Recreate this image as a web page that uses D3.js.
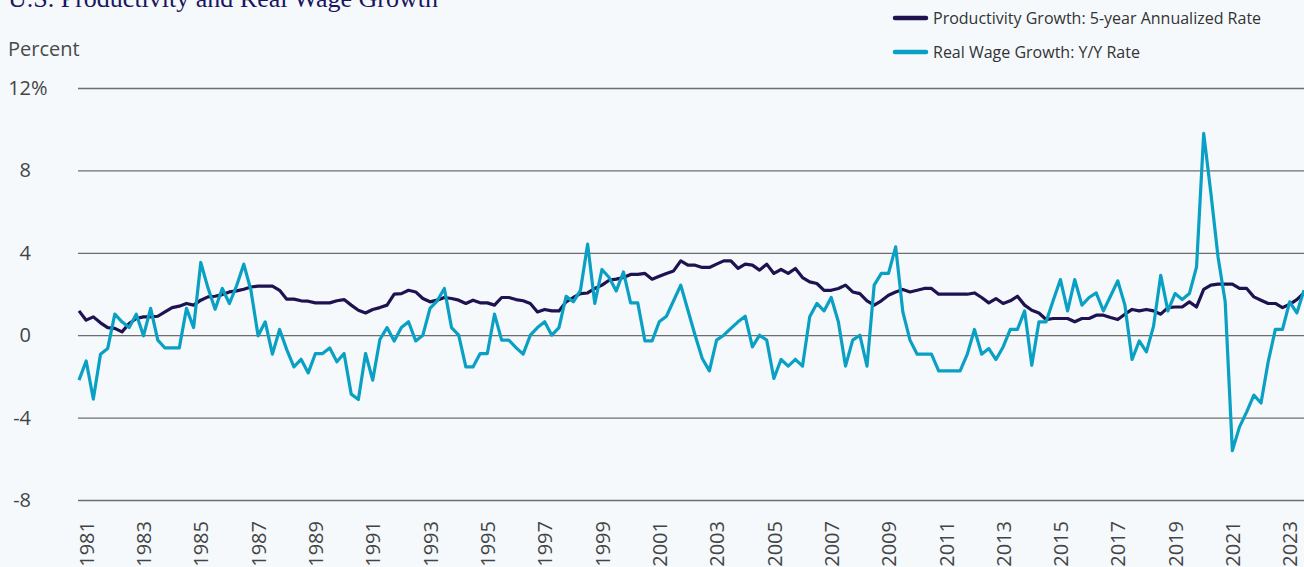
<!DOCTYPE html>
<html>
<head>
<meta charset="utf-8">
<script src="https://cdn.jsdelivr.net/npm/d3@7"></script>
<style>
  body { margin: 0; background: #f5f9fc; }
</style>
</head>
<body>
<div id="chart"></div>
<script>
  // quarterly series, first point is 1981 Q1
  const startYear = 1981;
  const productivity = [
    1.18, 0.73, 0.89, 0.6, 0.37, 0.33, 0.16, 0.57, 0.81, 0.89, 0.89, 0.92, 1.13, 1.34, 1.41, 1.54, 1.46, 1.7, 1.86, 1.89,
    1.97, 2.1, 2.15, 2.23, 2.34, 2.38, 2.38, 2.38, 2.18, 1.75, 1.75, 1.67, 1.65, 1.57, 1.57, 1.57, 1.67, 1.73, 1.46, 1.21,
    1.08, 1.25, 1.34, 1.46, 1.99, 2.02, 2.18, 2.1, 1.78, 1.62, 1.7, 1.83, 1.78, 1.7, 1.54, 1.7, 1.57, 1.57, 1.46, 1.83,
    1.83, 1.73, 1.67, 1.54, 1.13, 1.25, 1.18, 1.18, 1.62, 1.83, 2.02, 2.05, 2.27, 2.43, 2.67, 2.72, 2.8, 2.95, 2.95, 3.0,
    2.72, 2.86, 3.0, 3.12, 3.61, 3.4, 3.4, 3.29, 3.29, 3.45, 3.61, 3.61, 3.24, 3.45, 3.4, 3.16, 3.45, 3.0, 3.19, 3.0,
    3.24, 2.8, 2.59, 2.51, 2.18, 2.18, 2.27, 2.43, 2.1, 2.02, 1.67, 1.46, 1.67, 1.94, 2.1, 2.22, 2.1, 2.18, 2.27, 2.27,
    1.99, 1.99, 1.99, 1.99, 1.99, 2.05, 1.83, 1.57, 1.78, 1.54, 1.67, 1.89, 1.46, 1.21, 1.08, 0.76, 0.81, 0.81, 0.81, 0.65,
    0.81, 0.81, 0.97, 0.97, 0.86, 0.76, 1.02, 1.25, 1.18, 1.25, 1.18, 1.02, 1.34, 1.37, 1.37, 1.62, 1.37, 2.22, 2.43, 2.48,
    2.48, 2.48, 2.27, 2.27, 1.86, 1.7, 1.54, 1.54, 1.34, 1.5, 1.73, 2.05
  ];
  const realWage = [
    -2.18, -1.25, -3.1, -0.92, -0.65, 1.02, 0.65, 0.37, 1.02, -0.03, 1.3, -0.24, -0.62, -0.62, -0.62, 1.3, 0.37, 3.53, 2.3, 1.26,
    2.27, 1.54, 2.4, 3.45, 2.18, -0.03, 0.65, -0.92, 0.28, -0.7, -1.54, -1.17, -1.83, -0.89, -0.89, -0.62, -1.29, -0.89, -2.86, -3.12,
    -0.89, -2.18, -0.21, 0.37, -0.28, 0.37, 0.65, -0.28, 0, 1.3, 1.67, 2.27, 0.37, 0, -1.54, -1.54, -0.89, -0.89, 1.02, -0.24,
    -0.24, -0.6, -0.92, 0, 0.37, 0.65, 0, 0.37, 1.89, 1.62, 2.18, 4.42, 1.54, 3.19, 2.8, 2.15, 3.07, 1.57, 1.57, -0.28,
    -0.28, 0.65, 0.92, 1.67, 2.43, 1.21, 0, -1.13, -1.73, -0.24, 0, 0.33, 0.65, 0.92, -0.57, 0, -0.24, -2.1, -1.18, -1.5,
    -1.17, -1.5, 0.89, 1.54, 1.18, 1.83, 0.65, -1.5, -0.24, 0, -1.5, 2.43, 3.0, 3.0, 4.29, 1.13, -0.24, -0.92, -0.92, -0.92,
    -1.73, -1.73, -1.73, -1.73, -0.92, 0.28, -0.92, -0.65, -1.18, -0.57, 0.28, 0.28, 1.18, -1.46, 0.65, 0.65, 1.7, 2.7, 1.18, 2.7,
    1.46, 1.83, 2.05, 1.18, 1.9, 2.64, 1.46, -1.18, -0.28, -0.81, 0.44, 2.91, 1.18, 2.02, 1.73, 2.02, 3.32, 9.8, 6.9, 3.8,
    1.62, -5.6, -4.45, -3.72, -2.91, -3.29, -1.29, 0.28, 0.28, 1.62, 1.08, 2.18
  ];
  const yTicks = [12, 8, 4, 0, -4, -8];
  const labelYears = d3.range(1981, 2024, 2);
  const seriesNames = ["Productivity Growth: 5-year Annualized Rate", "Real Wage Growth: Y/Y Rate"];
  const seriesColors = ["#1e1350", "#0aa0c4"];

  const width = 1304, height = 567;
  const plot = { left: 78, right: 1304, top: 88, bottom: 500 };

  const svg = d3.select("#chart")
    .append("svg")
    .attr("width", width)
    .attr("height", height);

  svg.append("rect")
    .attr("width", width)
    .attr("height", height)
    .attr("fill", "#f5f9fc");

  // scales: x in fractional years, one step per quarter
  const x = d3.scaleLinear()
    .domain([startYear, startYear + (productivity.length - 1) / 4])
    .range([79, plot.right]);
  const y = d3.scaleLinear()
    .domain([-8, 12])
    .range([plot.bottom, plot.top]);

  // title (top part is cut off in the original)
  svg.append("text")
    .attr("x", 8)
    .attr("y", 7)
    .style("font-family", "Liberation Serif")
    .style("font-size", "26px")
    .style("fill", "#1b1660")
    .text("U.S. Productivity and Real Wage Growth");

  svg.append("text")
    .attr("x", 8)
    .attr("y", 56)
    .style("font-family", "Open Sans")
    .style("font-size", "20px")
    .style("fill", "#4a4a4a")
    .text("Percent");

  // y axis with gridlines
  const yAxis = svg.append("g")
    .attr("transform", `translate(${plot.left},0)`)
    .call(d3.axisLeft(y)
      .tickValues(yTicks)
      .tickSize(-(plot.right - plot.left))
      .tickPadding(47)
      .tickFormat(d => d));
  yAxis.select(".domain").remove();
  yAxis.selectAll(".tick line")
    .attr("stroke", "#6e6e6e")
    .attr("stroke-width", 1.3);
  yAxis.selectAll(".tick text")
    .style("font-family", "Open Sans")
    .style("font-size", "20px")
    .style("fill", "#444");
  yAxis.selectAll(".tick")
    .filter(d => d === 12)
    .append("text")
    .attr("x", -47)
    .attr("dy", "0.32em")
    .attr("text-anchor", "start")
    .style("font-family", "Open Sans")
    .style("font-size", "20px")
    .style("fill", "#444")
    .text("%");

  // x axis: rotated year labels
  const xAxis = svg.append("g")
    .attr("transform", `translate(0,${plot.bottom})`)
    .call(d3.axisBottom(x)
      .tickValues(labelYears.map(yr => yr + 0.25))
      .tickSize(0)
      .tickFormat(d => Math.floor(d)));
  xAxis.select(".domain").remove();
  xAxis.selectAll(".tick text")
    .attr("transform", "rotate(-90)")
    .attr("text-anchor", "end")
    .attr("x", -21)
    .attr("y", 0)
    .attr("dy", "0.36em")
    .style("font-family", "Open Sans")
    .style("font-size", "20px")
    .style("fill", "#444");

  // lines
  const line = d3.line()
    .x((d, i) => x(startYear + i / 4))
    .y(d => y(d));

  svg.append("path")
    .datum(productivity)
    .attr("fill", "none")
    .attr("stroke", seriesColors[0])
    .attr("stroke-width", 3.2)
    .attr("stroke-linejoin", "round")
    .attr("d", line);

  svg.append("path")
    .datum(realWage)
    .attr("fill", "none")
    .attr("stroke", seriesColors[1])
    .attr("stroke-width", 3.2)
    .attr("stroke-linejoin", "round")
    .attr("d", line);

  // legend
  const legend = svg.append("g")
    .attr("transform", "translate(895,18)");
  legend.selectAll("line")
    .data(seriesNames)
    .join("line")
    .attr("x1", 0)
    .attr("x2", 31)
    .attr("y1", (d, i) => i * 34)
    .attr("y2", (d, i) => i * 34)
    .attr("stroke", (d, i) => seriesColors[i])
    .attr("stroke-width", 4.5)
    .attr("stroke-linecap", "round");
  legend.selectAll("text")
    .data(seriesNames)
    .join("text")
    .attr("x", 38)
    .attr("y", (d, i) => i * 34)
    .attr("dy", "0.35em")
    .style("font-family", "Open Sans")
    .style("font-size", "16px")
    .style("fill", "#333")
    .text(d => d);
</script>
</body>
</html>
